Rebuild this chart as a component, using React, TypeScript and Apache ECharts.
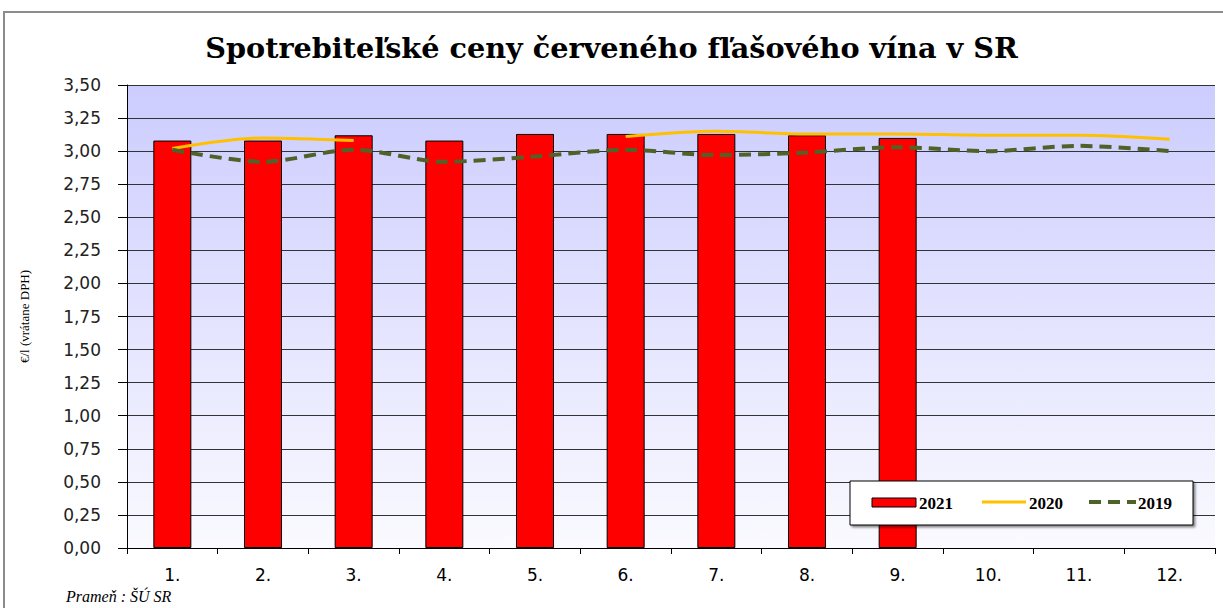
import React, { useEffect, useRef } from "react";
import * as echarts from "echarts";

const months = ["1.", "2.", "3.", "4.", "5.", "6.", "7.", "8.", "9.", "10.", "11.", "12."];
const s2021 = [3.08, 3.08, 3.12, 3.08, 3.13, 3.13, 3.13, 3.12, 3.10, null, null, null];
const s2020 = [3.02, 3.10, 3.08, null, null, 3.11, 3.15, 3.13, 3.13, 3.12, 3.12, 3.09];
const s2019 = [3.01, 2.92, 3.01, 2.92, 2.96, 3.01, 2.97, 2.99, 3.03, 3.0, 3.04, 3.0];

const title = "Spotrebiteľské ceny červeného fľašového vína v SR";
const yName = "€/l (vrátane DPH)";
const source = "Prameň : ŠÚ SR";
const legendNames = ["2021", "2020", "2019"];

const RED = "#ff0000";
const YELLOW = "#ffc000";
const GREEN = "#4f6228";

export default function App() {
  const ref = useRef<HTMLDivElement>(null);
  useEffect(() => {
    document.body.style.margin = "0";
    const chart = echarts.init(ref.current!, null, { renderer: "svg" });
    const legendFont = "bold 17px 'Liberation Serif'";
    const Z = 100;
    chart.setOption({
      animation: false,
      backgroundColor: "#ffffff",
      title: {
        text: title,
        left: "center",
        top: 28,
        textStyle: { fontFamily: "DejaVu Serif", fontWeight: "bold", fontSize: 28.7, color: "#000" },
      },
      graphic: [
        {
          type: "rect",
          shape: { x: 4, y: 12, width: 1240, height: 620 },
          style: { fill: "none", stroke: "#8c8c8c", lineWidth: 2 },
          silent: true,
          z: -1,
        },
        {
          type: "text",
          left: 66,
          top: 588,
          style: { text: source, font: "italic 16px 'Liberation Serif'", fill: "#000" },
        },
        {
          type: "rect",
          z: Z,
          shape: { x: 850, y: 481, width: 343, height: 44 },
          style: {
            fill: "#fff",
            stroke: "#000",
            lineWidth: 1,
            shadowColor: "rgba(0,0,0,0.45)",
            shadowOffsetX: 2,
            shadowOffsetY: 2,
            shadowBlur: 2,
          },
        },
        {
          type: "rect",
          z: Z + 1,
          shape: { x: 872, y: 498, width: 44, height: 9 },
          style: { fill: RED, stroke: "#000", lineWidth: 1 },
        },
        {
          type: "text",
          z: Z + 1,
          x: 919,
          y: 503,
          style: { text: legendNames[0], font: legendFont, fill: "#000", textVerticalAlign: "middle" },
        },
        {
          type: "line",
          z: Z + 1,
          shape: { x1: 982, y1: 502, x2: 1026, y2: 502 },
          style: { stroke: YELLOW, lineWidth: 3 },
        },
        {
          type: "text",
          z: Z + 1,
          x: 1029,
          y: 503,
          style: { text: legendNames[1], font: legendFont, fill: "#000", textVerticalAlign: "middle" },
        },
        {
          type: "line",
          z: Z + 1,
          shape: { x1: 1089, y1: 502, x2: 1136, y2: 502 },
          style: { stroke: GREEN, lineWidth: 4, lineDash: [12, 7] },
        },
        {
          type: "text",
          z: Z + 1,
          x: 1138,
          y: 503,
          style: { text: legendNames[2], font: legendFont, fill: "#000", textVerticalAlign: "middle" },
        },
      ],
      grid: {
        left: 127,
        right: 8,
        top: 85,
        bottom: 60,
        show: true,
        borderWidth: 0,
        backgroundColor: {
          type: "linear",
          x: 0,
          y: 0,
          x2: 0,
          y2: 1,
          colorStops: [
            { offset: 0, color: "#ccccff" },
            { offset: 1, color: "#fafaff" },
          ],
        },
      },
      xAxis: {
        type: "category",
        data: months,
        boundaryGap: true,
        axisLine: { lineStyle: { color: "#000", width: 1 } },
        axisTick: { show: true, interval: 0, length: 6, lineStyle: { color: "#000" } },
        axisLabel: { fontFamily: "DejaVu Sans", fontSize: 17, color: "#000", margin: 18 },
      },
      yAxis: {
        type: "value",
        min: 0,
        max: 3.5,
        interval: 0.25,
        name: yName,
        nameLocation: "middle",
        nameGap: 96,
        nameTextStyle: { fontFamily: "Liberation Serif", fontSize: 13, color: "#000" },
        axisLine: { show: true, lineStyle: { color: "#000", width: 1 } },
        axisTick: { show: true, length: 9, lineStyle: { color: "#000" } },
        axisLabel: {
          fontFamily: "DejaVu Sans",
          fontSize: 17,
          color: "#222",
          margin: 26,
          formatter: (v: number) => v.toFixed(2).replace(".", ","),
        },
        splitLine: { show: true, lineStyle: { color: "#333", width: 1 } },
      },
      series: [
        {
          name: legendNames[0],
          type: "bar",
          data: s2021,
          barWidth: 38,
          itemStyle: { color: RED, borderColor: "#000", borderWidth: 1 },
          z: 2,
        },
        {
          name: legendNames[1],
          type: "line",
          data: s2020,
          smooth: 0.3,
          showSymbol: false,
          symbol: "none",
          connectNulls: false,
          lineStyle: { color: YELLOW, width: 3 },
          itemStyle: { color: YELLOW },
          z: 3,
        },
        {
          name: legendNames[2],
          type: "line",
          data: s2019,
          smooth: 0.3,
          showSymbol: false,
          symbol: "none",
          lineStyle: { color: GREEN, width: 4, type: [12, 7] },
          itemStyle: { color: GREEN },
          z: 3,
        },
      ],
    });
    return () => chart.dispose();
  }, []);
  return (
    <div
      ref={ref}
      style={{ position: "fixed", left: 0, top: 0, width: 1223, height: 608 }}
    />
  );
}
